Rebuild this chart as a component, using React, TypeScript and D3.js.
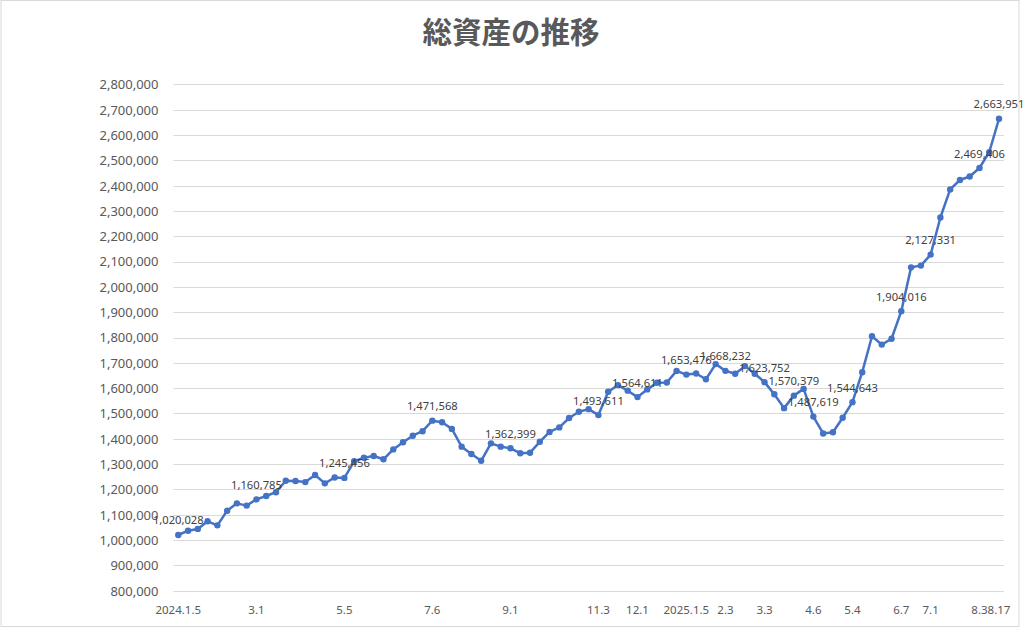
import React, { useEffect, useRef } from 'react';
import * as d3 from 'd3';

// weekly total assets (yen)
const values = [
  1020028, 1037000, 1044000, 1074000, 1058000, 1116000, 1145000, 1136000, 1160785, 1174000,
  1189000, 1234000, 1233000, 1229000, 1257000, 1224000, 1247000, 1245456, 1311000, 1325000,
  1332000, 1319000, 1358000, 1386000, 1412000, 1430000, 1471568, 1465000, 1439000, 1369000,
  1340000, 1313000, 1382000, 1369000, 1362399, 1343000, 1345000, 1388000, 1427000, 1445000,
  1482000, 1507000, 1517000, 1493611, 1586000, 1612000, 1590000, 1564611, 1595000, 1621000,
  1622000, 1668000, 1653476, 1658000, 1635000, 1695000, 1668232, 1657000, 1687000, 1657000,
  1623752, 1576000, 1521000, 1570379, 1597000, 1487619, 1421000, 1426000, 1483000, 1544643,
  1663000, 1805000, 1772000, 1795000, 1904016, 2077000, 2084000, 2127331, 2274000, 2385000,
  2422000, 2436000, 2469406, 2532000, 2663951,
];

// category labels that are shown on the axis, and where they sit in the series
const dateLabels = ['2024.1.5', '3.1', '5.5', '7.6', '9.1', '11.3', '12.1', '2025.1.5', '2.3', '3.3', '4.6', '5.4', '6.7', '7.1', '8.3', '8.17'];
const dateIndex = [0, 8, 17, 26, 34, 43, 47, 52, 56, 60, 65, 69, 74, 77, 82, 84];

// points that carry a data label
const labelIndex = [0, 8, 17, 26, 34, 43, 47, 52, 56, 60, 63, 65, 69, 74, 77, 82, 84];

const yTicks = d3.range(800000, 2800001, 100000);

const title = '総資産の推移';

export default function App() {
  const ref = useRef<SVGSVGElement>(null);

  const width = 1024;
  const height = 628;
  const color = '#4472C4';
  const textColor = '#595959';
  const font = '"Noto Sans", "Noto Sans CJK JP", sans-serif';

  useEffect(() => {
    draw();
  }, []);

  function draw() {
    const svg = d3.select(ref.current);
    svg.selectAll('*').remove();

    svg.append('rect')
      .attr('x', 0).attr('y', 0)
      .attr('width', width).attr('height', height)
      .attr('fill', '#fff');

    svg.append('rect')
      .attr('x', 1).attr('y', 0.5)
      .attr('width', 1018).attr('height', 626)
      .attr('fill', 'none')
      .attr('stroke', '#d9d9d9');

    const x = d3.scalePoint<number>()
      .domain(values.map((_, i) => i))
      .range([173.4, 1003.9])
      .padding(0.5);

    const y = d3.scaleLinear()
      .domain([800000, 2800000])
      .range([590.7, 84.3]);

    svg.append('text')
      .attr('x', 511)
      .attr('y', 43)
      .attr('text-anchor', 'middle')
      .attr('font-family', '"Noto Sans CJK JP", sans-serif')
      .attr('font-weight', 'bold')
      .attr('font-size', 29.5)
      .attr('fill', textColor)
      .text(title);

    const grid = svg.append('g');
    grid.selectAll('line')
      .data(yTicks)
      .enter()
      .append('line')
      .attr('x1', 173.4)
      .attr('x2', 1003.9)
      .attr('y1', (d) => Math.round(y(d)) + 0.5)
      .attr('y2', (d) => Math.round(y(d)) + 0.5)
      .attr('stroke', '#d9d9d9');

    grid.selectAll('text')
      .data(yTicks)
      .enter()
      .append('text')
      .attr('x', 158.5)
      .attr('y', (d) => y(d))
      .attr('dy', '0.38em')
      .attr('text-anchor', 'end')
      .attr('font-family', font)
      .attr('font-size', 13)
      .attr('fill', textColor)
      .text((d) => d3.format(',')(d));

    svg.append('g')
      .selectAll('text')
      .data(dateIndex)
      .enter()
      .append('text')
      .attr('x', (d) => x(d) as number)
      .attr('y', 613.5)
      .attr('text-anchor', 'middle')
      .attr('font-family', font)
      .attr('font-size', 11.5)
      .attr('fill', textColor)
      .text((d, i) => dateLabels[i]);

    const line = d3.line<number>()
      .x((d, i) => x(i) as number)
      .y((d) => y(d));

    svg.append('path')
      .datum(values)
      .attr('d', line)
      .attr('fill', 'none')
      .attr('stroke', color)
      .attr('stroke-width', 2.5)
      .attr('stroke-linejoin', 'round');

    svg.append('g')
      .selectAll('circle')
      .data(values)
      .enter()
      .append('circle')
      .attr('cx', (d, i) => x(i) as number)
      .attr('cy', (d) => y(d))
      .attr('r', 3.2)
      .attr('fill', color);

    svg.append('g')
      .selectAll('text')
      .data(labelIndex)
      .enter()
      .append('text')
      .attr('x', (d) => x(d) as number)
      .attr('y', (d) => y(values[d]) - 10.5)
      .attr('text-anchor', 'middle')
      .attr('font-family', font)
      .attr('font-size', 11.2)
      .attr('fill', '#404040')
      .text((d) => d3.format(',')(values[d]));
  }

  return (
    <svg
      ref={ref}
      width={width}
      height={height}
      style={{ position: 'absolute', left: 0, top: 0 }}
    />
  );
}
